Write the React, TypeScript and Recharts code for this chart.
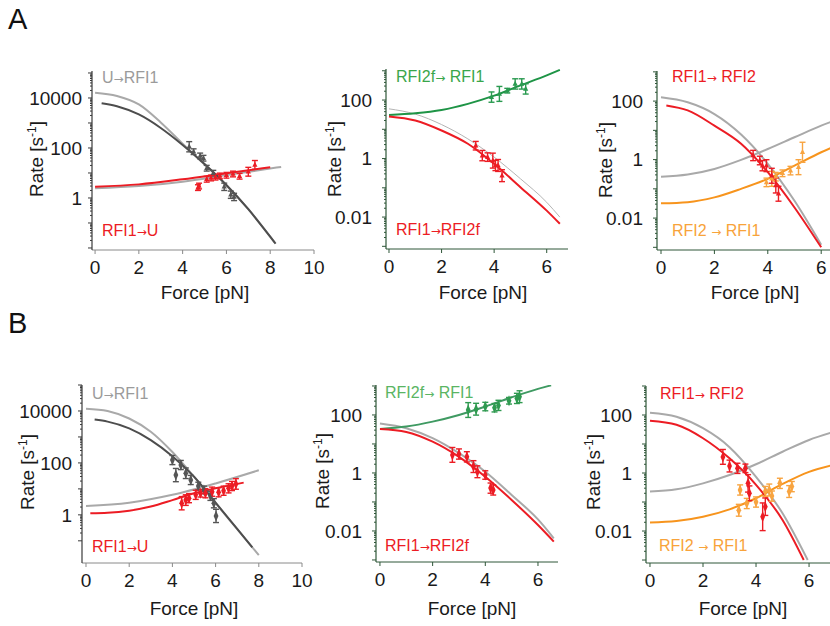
import React from 'react';
import { ComposedChart, Line, Scatter, XAxis, YAxis, ErrorBar } from 'recharts';

const FONT = '"Liberation Sans", Arial, Helvetica, sans-serif';

// ---------------- colours ----------------
const RED = '#ec1c24';
const LIGHT = '#a9a9a9';
const DARK = '#4d4d4d';
const GREEN_A = '#1e9446';
const GREEN_B = '#3f9a62';
const ORANGE = '#f7941d';

// ---------------- tick labels ----------------
const xTicksWide = [0, 2, 4, 6, 8, 10];
const xTicksNarrow = [0, 2, 4, 6];
const yMajorsA1 = [0.01, 0.1, 1, 10, 100, 1000, 10000, 100000];
const yMajorsB1 = [0.1, 1, 10, 100, 1000, 10000, 100000];
const yMajorsSmall = [0.001, 0.01, 0.1, 1, 10, 100, 1000];
const yLabelsBig = ['1', '100', '10000'];
const yLabelsSmall = ['0.01', '1', '100'];

// ---------------- data: [force pN, rate s^-1] (fits) / [force, rate, error factor] (points) ----------------
// A1
const a1UtoRfi1FitLight = [[0, 16200], [1, 12000], [2, 5500], [3, 1050], [4, 148], [5, 21.9], [6, 3.16], [7, 0.355], [8.2, 0.0166]];
const a1UtoRfi1FitDark = [[0.3, 6170], [1, 4680], [2, 2190], [3, 631], [4, 132], [5, 22.9], [6, 3.31], [7, 0.355], [8, 0.0282], [8.25, 0.0148]];
const a1Rfi1toUFitLight = [[0, 2.45], [2, 3.0], [4, 4.5], [6, 8.3], [8.5, 17.5]];
const a1Rfi1toUFitRed = [[0, 2.8], [2, 3.5], [4, 5.6], [6, 9.8], [8, 17]];
const a1UtoRfi1Pts = [[4.3, 112, 1.6], [4.5, 71, 1.3], [4.8, 48, 1.3], [4.95, 39, 1.3], [5.1, 15.5, 1.3], [5.4, 9.8, 1.3], [5.9, 2.8, 1.4], [6.2, 1.35, 1.4], [6.35, 1.1, 1.4]];
const a1Rfi1toUPts = [[4.7, 2.6, 1.3], [4.75, 3.0, 1.3], [5.1, 5.6, 1.3], [5.3, 6.3, 1.3], [5.5, 6.8, 1.3], [5.7, 7.6, 1.3], [6.0, 8.1, 1.3], [6.3, 9.1, 1.3], [6.6, 7.4, 1.3], [7.0, 11.2, 1.5], [7.3, 21, 1.5]];
// A2
const a2Rfi2ftoRfi1Fit = [[0, 31], [1, 35.5], [2, 46], [3, 74], [4, 141], [5, 316], [6, 700], [6.5, 1070]];
const a2Rfi1toRfi2fFit = [[0, 27.5], [1, 20], [2, 9.1], [3, 3.2], [4, 0.66], [5, 0.105], [6, 0.0166], [6.5, 0.0059]];
const a2GrayFit = [[0, 50], [1, 33], [2, 14.5], [3, 4.7], [4, 1.12], [5, 0.204], [6, 0.032], [6.5, 0.01]];
const a2Rfi2ftoRfi1Pts = [[3.9, 126, 1.5], [4.2, 162, 1.8], [4.5, 209, 1.2], [4.8, 355, 1.5], [5.05, 355, 1.5], [5.2, 240, 1.5]];
const a2Rfi1toRfi2fPts = [[3.3, 2.75, 1.4], [3.55, 1.26, 1.5], [3.75, 1.12, 1.4], [3.95, 0.85, 1.8], [4.05, 0.58, 1.5], [4.15, 0.58, 1.6], [4.3, 0.26, 1.6]];
// A3
const a3GrayDec = [[0, 135], [1, 91], [2, 36], [3, 7.2], [4, 0.72], [5, 0.039], [6, 0.00123]];
const a3Rfi1toRfi2Fit = [[0.2, 71], [1, 48], [2, 14.5], [3, 3.5], [4, 0.37], [5, 0.023], [6, 0.001]];
const a3GrayInc = [[0, 0.26], [1, 0.31], [2, 0.48], [3, 0.98], [4, 2.3], [5, 5.8], [6, 14.5], [6.4, 20]];
const a3Rfi2toRfi1Fit = [[0, 0.032], [1, 0.035], [2, 0.051], [3, 0.1], [4, 0.22], [5, 0.62], [6, 1.78], [6.4, 2.6]];
const a3Rfi1toRfi2Pts = [[3.45, 1.38, 1.5], [3.7, 0.93, 1.4], [3.8, 0.62, 1.5], [3.95, 0.62, 1.6], [4.15, 0.28, 1.8], [4.3, 0.13, 1.8], [4.4, 0.068, 1.8]];
const a3Rfi2toRfi1Pts = [[3.95, 0.166, 1.4], [4.15, 0.22, 1.8], [4.3, 0.26, 1.4], [4.55, 0.34, 1.3], [4.85, 0.42, 1.4], [5.15, 0.55, 1.8], [5.3, 1.78, 2.2]];
// B1
const b1UtoRfi1FitLight = [[0, 12300], [1, 10000], [2, 5130], [3, 1585], [4, 263], [5, 29.5], [6, 2.82], [7, 0.282], [8, 0.0282]];
const b1UtoRfi1FitDark = [[0.4, 4680], [1, 3890], [2, 2140], [3, 759], [4, 182], [5, 29.5], [6, 2.95], [7, 0.288], [7.7, 0.056]];
const b1Rfi1toUFitLight = [[0, 2.2], [2, 2.95], [4, 5.9], [6, 16.2], [8, 52]];
const b1Rfi1toUFitRed = [[0.2, 1.15], [1, 1.2], [2, 1.45], [3, 2.1], [4, 3.7], [5, 6.8], [6, 10.5], [7.3, 17.4]];
const b1UtoRfi1Pts = [[4.0, 129, 1.5], [4.16, 34, 1.8], [4.39, 83, 1.5], [4.62, 40, 1.6], [4.85, 22, 1.5], [5.2, 12.9, 1.4], [5.46, 9.1, 1.4], [5.76, 5.4, 1.5], [5.92, 2.8, 1.5], [6.02, 0.91, 1.8]];
const b1Rfi1toUPts = [[4.43, 2.8, 1.8], [4.62, 3.7, 1.6], [4.77, 4.4, 1.5], [5.08, 5.9, 1.5], [5.3, 6.8, 1.4], [5.53, 6.8, 1.5], [5.84, 7.8, 1.5], [6.14, 7.4, 1.5], [6.37, 8.5, 1.5], [6.6, 10.5, 1.5], [6.76, 12.9, 1.5], [6.94, 15.5, 1.6]];
// B2
const b2Rfi2ftoRfi1Fit = [[0, 33], [1, 40], [2, 59], [3, 100], [4, 195], [5, 407], [6, 794], [6.5, 1050]];
const b2Rfi1toRfi2fFit = [[0, 33], [1, 26], [2, 12], [3, 3.6], [4, 0.74], [5, 0.117], [6, 0.016], [6.6, 0.0043]];
const b2GrayFit = [[0, 51], [1, 35], [2, 15.8], [3, 4.8], [4, 1.1], [5, 0.174], [6, 0.025], [6.6, 0.0056]];
const b2Rfi2ftoRfi1Pts = [[3.35, 148, 1.8], [3.65, 158, 1.6], [4.0, 195, 1.4], [4.35, 178, 1.4], [4.5, 214, 1.5], [4.9, 309, 1.3], [5.2, 372, 1.5], [5.3, 427, 1.6]];
const b2Rfi1toRfi2fPts = [[2.75, 4.2, 1.8], [3.0, 4.5, 1.5], [3.3, 3.6, 1.5], [3.55, 1.66, 1.6], [3.7, 1.1, 1.6], [4.0, 0.85, 1.4], [4.2, 0.3, 1.5], [4.3, 0.26, 1.5]];
// B3
const b3GrayDec = [[0, 120], [1, 87], [2, 35], [3, 7.8], [4, 0.74], [5, 0.041], [5.95, 0.001]];
const b3Rfi1toRfi2Fit = [[0, 63], [1, 46], [2, 15.8], [3, 3.2], [4, 0.39], [5, 0.024], [5.8, 0.001]];
const b3GrayInc = [[0, 0.23], [1, 0.275], [2, 0.44], [3, 0.85], [4, 2.0], [5, 5.4], [6, 13.8], [6.8, 24]];
const b3Rfi2toRfi1Fit = [[0, 0.0195], [1, 0.022], [2, 0.031], [3, 0.056], [4, 0.135], [5, 0.42], [6, 1.1], [6.8, 1.8]];
const b3Rfi1toRfi2Pts = [[2.75, 3.6, 1.8], [3.0, 1.74, 1.6], [3.3, 1.45, 1.5], [3.6, 1.45, 1.4], [3.7, 0.44, 2], [3.75, 0.2, 1.8], [4.25, 0.031, 3], [4.35, 0.069, 2]];
const b3Rfi2toRfi1Pts = [[3.35, 0.052, 1.6], [3.4, 0.26, 1.5], [3.65, 0.089, 1.5], [4.0, 0.1, 1.5], [4.35, 0.23, 1.5], [4.5, 0.26, 1.6], [4.6, 0.16, 1.5], [4.9, 0.44, 1.5], [5.25, 0.23, 1.6], [5.35, 0.34, 1.5]];

// ---------------- helpers ----------------
const toLine = (d: number[][]) => d.map(([f, r]) => ({ f, r }));
const toPts = (d: number[][]) => d.map(([f, r, e]) => ({ f, r, err: [r - r / e, r * e - r] }));

type LineCfg = { data: number[][]; color: string; width?: number };
type PtsCfg = { data: number[][]; color: string; shape: 'triangle' | 'diamond' };
type PanelCfg = {
  id: string;
  px: number; pr: number; pt: number; pb: number; mr: number;
  xDom: [number, number]; yDom: [number, number];
  xTicks: number[]; yMajors: number[]; yLabels: string[];
  yAxisColor: string; xAxisColor: string; yGap: number;
  lines: LineCfg[]; points: PtsCfg[];
};

const YW = 80;
const XH = 44;
const MT = 8;

const triShape = (color: string) => (p: any) => {
  const { cx, cy } = p;
  if (cx == null || cy == null) return <g />;
  return <path d={`M${cx},${cy - 3.2} L${cx + 2.6},${cy + 1.8} L${cx - 2.6},${cy + 1.8} Z`} fill={color} />;
};
const diaShape = (color: string) => (p: any) => {
  const { cx, cy } = p;
  if (cx == null || cy == null) return <g />;
  return <path d={`M${cx},${cy - 5.5} L${cx + 2.4},${cy} L${cx},${cy + 5.5} L${cx - 2.4},${cy} Z`} fill={color} />;
};

function Panel({ cfg }: { cfg: PanelCfg }) {
  const left = cfg.px - YW;
  const top = cfg.pt - MT;
  const width = cfg.pr - left + cfg.mr;
  const height = MT + (cfg.pb - cfg.pt) + XH;
  const minors: number[] = [];
  cfg.yMajors.forEach((m) => {
    for (let k = 2; k <= 9; k++) {
      const v = m * k;
      if (v > cfg.yDom[0] && v < cfg.yDom[1]) minors.push(v);
    }
  });
  const majorsIn = cfg.yMajors.filter((m) => m >= cfg.yDom[0] && m <= cfg.yDom[1]);
  const yTicks = [...majorsIn, ...minors].sort((a, b) => a - b);
  const isMajor = (v: number) => majorsIn.some((m) => Math.abs(m - v) / m < 1e-6);
  const labelOf = (v: number) => cfg.yLabels.find((l) => Math.abs(parseFloat(l) - v) / v < 1e-6);

  const yTick = (p: any) => {
    const { x, y, payload } = p;
    const v = payload.value;
    const maj = isMajor(v);
    const lab = labelOf(v);
    return (
      <g key={`yt-${v}`}>
        <line x1={x} x2={x - (maj ? 4 : 2)} y1={y} y2={y} stroke={cfg.yAxisColor} strokeWidth={1} />
        {lab ? (
          <text x={x - cfg.yGap} y={y} dy="0.36em" textAnchor="end" fontSize={19} fontFamily={FONT} fill="#1a1a1a">
            {lab}
          </text>
        ) : null}
      </g>
    );
  };
  const xTick = (p: any) => {
    const { x, y, payload } = p;
    return (
      <g key={`xt-${payload.value}`}>
        <line x1={x} x2={x} y1={y} y2={y + 4} stroke={cfg.xAxisColor} strokeWidth={1} />
        <text x={x} y={y + 24} textAnchor="middle" fontSize={19} fontFamily={FONT} fill="#1a1a1a">
          {payload.value}
        </text>
      </g>
    );
  };

  return (
    <div style={{ position: 'absolute', left, top }}>
      <ComposedChart width={width} height={height} margin={{ top: MT, right: cfg.mr, left: 0, bottom: 0 }} style={{ overflow: 'visible' }}>
        <XAxis
          type="number"
          dataKey="f"
          domain={cfg.xDom}
          ticks={cfg.xTicks}
          allowDataOverflow
          height={XH}
          tickSize={0}
          tickMargin={0}
          tickLine={false}
          interval={0}
          tick={xTick}
          axisLine={{ stroke: cfg.xAxisColor, strokeWidth: 1 }}
        />
        <YAxis
          type="number"
          dataKey="r"
          scale="log"
          domain={cfg.yDom}
          ticks={yTicks}
          allowDataOverflow
          width={YW}
          tickSize={0}
          tickMargin={0}
          tickLine={false}
          interval={0}
          tick={yTick}
          axisLine={{ stroke: cfg.yAxisColor, strokeWidth: 1.2 }}
        />
        {cfg.lines.map((l, i) => (
          <Line
            key={`${cfg.id}-l${i}`}
            data={toLine(l.data)}
            dataKey="r"
            type="monotone"
            stroke={l.color}
            strokeWidth={l.width ?? 2}
            dot={false}
            activeDot={false}
            isAnimationActive={false}
          />
        ))}
        {cfg.points.map((s, i) => (
          <Scatter
            key={`${cfg.id}-s${i}`}
            data={toPts(s.data)}
            dataKey="r"
            fill={s.color}
            shape={s.shape === 'triangle' ? triShape(s.color) : diaShape(s.color)}
            isAnimationActive={false}
          >
            <ErrorBar dataKey="err" direction="y" width={3} stroke={s.color} strokeWidth={1.4} isAnimationActive={false} />
          </Scatter>
        ))}
      </ComposedChart>
    </div>
  );
}

const AX1 = '#3a3a3a';
const AXG = '#2e5638';

const panels: PanelCfg[] = [
  {
    id: 'a1', px: 92, pr: 314, pt: 71, pb: 250, mr: 14,
    xDom: [-0.14, 10], yDom: [0.0083, 120000],
    xTicks: xTicksWide, yMajors: yMajorsA1, yLabels: yLabelsBig,
    yAxisColor: AX1, xAxisColor: '#8a8a8a', yGap: 10,
    lines: [
      { data: a1Rfi1toUFitLight, color: LIGHT },
      { data: a1UtoRfi1FitLight, color: LIGHT },
      { data: a1Rfi1toUFitRed, color: RED },
      { data: a1UtoRfi1FitDark, color: DARK },
    ],
    points: [
      { data: a1UtoRfi1Pts, color: '#555555', shape: 'triangle' },
      { data: a1Rfi1toUPts, color: RED, shape: 'triangle' },
    ],
  },
  {
    id: 'a2', px: 386, pr: 568, pt: 69, pb: 249, mr: 4,
    xDom: [-0.114, 6.81], yDom: [0.00081, 1150],
    xTicks: xTicksNarrow, yMajors: yMajorsSmall, yLabels: yLabelsSmall,
    yAxisColor: AXG, xAxisColor: AXG, yGap: 14,
    lines: [
      { data: a2GrayFit, color: '#b5b5b5', width: 1 },
      { data: a2Rfi2ftoRfi1Fit, color: GREEN_A },
      { data: a2Rfi1toRfi2fFit, color: RED },
    ],
    points: [
      { data: a2Rfi2ftoRfi1Pts, color: '#2a9a50', shape: 'triangle' },
      { data: a2Rfi1toRfi2fPts, color: RED, shape: 'triangle' },
    ],
  },
  {
    id: 'a3', px: 657, pr: 830, pt: 71, pb: 250, mr: 0,
    xDom: [-0.15, 6.33], yDom: [0.00081, 1070],
    xTicks: xTicksNarrow, yMajors: yMajorsSmall, yLabels: yLabelsSmall,
    yAxisColor: AXG, xAxisColor: AXG, yGap: 14,
    lines: [
      { data: a3GrayDec, color: LIGHT },
      { data: a3GrayInc, color: LIGHT },
      { data: a3Rfi2toRfi1Fit, color: ORANGE },
      { data: a3Rfi1toRfi2Fit, color: RED },
    ],
    points: [
      { data: a3Rfi2toRfi1Pts, color: '#f8a440', shape: 'triangle' },
      { data: a3Rfi1toRfi2Pts, color: RED, shape: 'triangle' },
    ],
  },
  {
    id: 'b1', px: 82, pr: 302, pt: 385, pb: 563, mr: 14,
    xDom: [-0.185, 10], yDom: [0.014, 100000],
    xTicks: xTicksWide, yMajors: yMajorsB1, yLabels: yLabelsBig,
    yAxisColor: AX1, xAxisColor: '#8a8a8a', yGap: 10,
    lines: [
      { data: b1Rfi1toUFitLight, color: LIGHT },
      { data: b1UtoRfi1FitLight, color: LIGHT },
      { data: b1Rfi1toUFitRed, color: RED },
      { data: b1UtoRfi1FitDark, color: DARK },
    ],
    points: [
      { data: b1UtoRfi1Pts, color: '#555555', shape: 'diamond' },
      { data: b1Rfi1toUPts, color: RED, shape: 'diamond' },
    ],
  },
  {
    id: 'b2', px: 376, pr: 558, pt: 385, pb: 562, mr: 4,
    xDom: [-0.15, 6.76], yDom: [0.00085, 1080],
    xTicks: xTicksNarrow, yMajors: yMajorsSmall, yLabels: yLabelsSmall,
    yAxisColor: AXG, xAxisColor: AXG, yGap: 14,
    lines: [
      { data: b2GrayFit, color: LIGHT },
      { data: b2Rfi2ftoRfi1Fit, color: GREEN_B },
      { data: b2Rfi1toRfi2fFit, color: RED },
    ],
    points: [
      { data: b2Rfi2ftoRfi1Pts, color: '#2f9a50', shape: 'diamond' },
      { data: b2Rfi1toRfi2fPts, color: RED, shape: 'diamond' },
    ],
  },
  {
    id: 'b3', px: 646, pr: 830, pt: 386, pb: 563, mr: 0,
    xDom: [-0.15, 6.79], yDom: [0.00079, 1000],
    xTicks: xTicksNarrow, yMajors: yMajorsSmall, yLabels: yLabelsSmall,
    yAxisColor: AXG, xAxisColor: AXG, yGap: 14,
    lines: [
      { data: b3GrayDec, color: LIGHT },
      { data: b3GrayInc, color: LIGHT },
      { data: b3Rfi2toRfi1Fit, color: ORANGE },
      { data: b3Rfi1toRfi2Fit, color: RED },
    ],
    points: [
      { data: b3Rfi2toRfi1Pts, color: '#f8a440', shape: 'diamond' },
      { data: b3Rfi1toRfi2Pts, color: RED, shape: 'diamond' },
    ],
  },
];

// ---------------- text overlay ----------------
const seriesLabels: { t: string; x: number; y: number; c: string }[] = [
  { t: 'U→RFI1', x: 102, y: 77, c: '#9b9b9b' },
  { t: 'RFI1→U', x: 102, y: 230, c: RED },
  { t: 'RFI2f→ RFI1', x: 396, y: 76, c: '#3aa64a' },
  { t: 'RFI1→RFI2f', x: 396, y: 229, c: RED },
  { t: 'RFI1→ RFI2', x: 672, y: 76, c: RED },
  { t: 'RFI2 → RFI1', x: 672, y: 230, c: '#f8a33a' },
  { t: 'U→RFI1', x: 92, y: 393, c: '#9b9b9b' },
  { t: 'RFI1→U', x: 92, y: 546, c: RED },
  { t: 'RFI2f→ RFI1', x: 385, y: 392, c: '#5ab563' },
  { t: 'RFI1→RFI2f', x: 385, y: 545, c: RED },
  { t: 'RFI1→ RFI2', x: 660, y: 393, c: RED },
  { t: 'RFI2 → RFI1', x: 659, y: 545, c: '#f8a33a' },
];
const yTitles = [
  { x: 36, y: 159 }, { x: 334, y: 159 }, { x: 605, y: 160 },
  { x: 27, y: 472 }, { x: 322, y: 471 }, { x: 593, y: 472 },
];
const xTitles = [
  { x: 205, y: 299 }, { x: 483, y: 299 }, { x: 755, y: 299 },
  { x: 194, y: 615 }, { x: 472, y: 615 }, { x: 743, y: 615 },
];
const panelLetters = [
  { t: 'A', x: 8, y: 29 },
  { t: 'B', x: 8, y: 333 },
];

function SeriesLabel({ t, x, y, c }: { t: string; x: number; y: number; c: string }) {
  const [a, b] = t.split('→');
  return (
    <text x={x} y={y} dy="0.36em" fontSize={16} fontFamily={FONT} fill={c}>
      {a}
      <tspan fontFamily='"DejaVu Sans", sans-serif' fontSize={12}>→</tspan>
      {b}
    </text>
  );
}

export default function App() {
  return (
    <div style={{ position: 'absolute', left: 0, top: 0, width: 830, height: 626, overflow: 'hidden', background: '#fff', fontFamily: FONT }}>
      {panels.map((p) => (
        <Panel key={p.id} cfg={p} />
      ))}
      <svg width={830} height={626} style={{ position: 'absolute', left: 0, top: 0, pointerEvents: 'none' }}>
        {panelLetters.map((l) => (
          <text key={l.t} x={l.x} y={l.y} fontSize={29} fontFamily={FONT} fill="#111">{l.t}</text>
        ))}
        {seriesLabels.map((s, i) => (
          <SeriesLabel key={`sl${i}`} {...s} />
        ))}
        {yTitles.map((t, i) => (
          <text key={`yt${i}`} transform={`translate(${t.x},${t.y}) rotate(-90)`} textAnchor="middle" dy="0.36em" fontSize={19} fontFamily={FONT} fill="#1a1a1a">
            Rate [s<tspan fontSize={12} dy={-7}>-1</tspan><tspan dy={7}>]</tspan>
          </text>
        ))}
        {xTitles.map((t, i) => (
          <text key={`xt${i}`} x={t.x} y={t.y} textAnchor="middle" fontSize={19} fontFamily={FONT} fill="#1a1a1a">Force [pN]</text>
        ))}
      </svg>
    </div>
  );
}
